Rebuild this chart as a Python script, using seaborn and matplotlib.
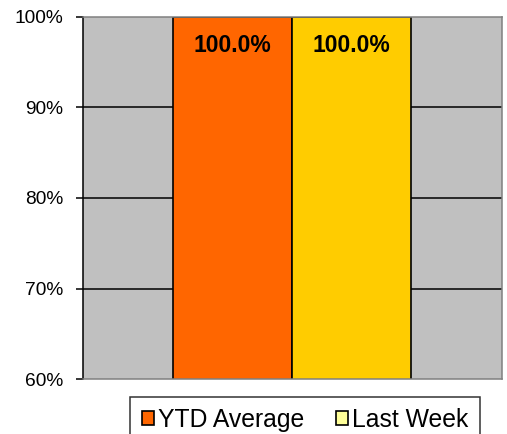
import matplotlib
matplotlib.use("Agg")
import matplotlib.pyplot as plt
from matplotlib.patches import Patch
import seaborn as sns
import pandas as pd

categories = ["YTD Average", "Last Week"]
values = [100.0, 100.0]
bar_colors = ["#FF6600", "#FFCC00"]
legend_colors = ["#FF6600", "#FFFF99"]
yticks = [60, 70, 80, 90, 100]

sns.set_style("white")
plt.rcParams["font.family"] = ["Liberation Sans", "DejaVu Sans"]
plt.rcParams["text.color"] = "black"
plt.rcParams["ytick.color"] = "black"

df = pd.DataFrame({"cat": categories, "val": values})

fig = plt.figure(figsize=(5.07, 4.34), dpi=100)
ax = fig.add_axes([83 / 507, 1 - 379 / 434, 419 / 507, 362 / 434])
ax.set_facecolor("#C0C0C0")

for y in yticks[1:-1]:
    ax.axhline(y, color="black", lw=1.1, zorder=1)

sns.barplot(data=df, x="cat", y="val", hue="cat", palette=bar_colors,
            saturation=1, width=1.0, edgecolor="black", linewidth=1.2,
            legend=False, ax=ax, zorder=2)

for i, v in enumerate(values):
    ax.text(i, 96.9, f"{v:.1f}%", ha="center", va="center", color="black",
            fontsize=16.5, fontweight="bold", zorder=3)

ax.set_ylim(60, 100)
ax.set_xlim(-1.256, 2.265)
ax.set_yticks(yticks)
ax.set_yticklabels([f"{t}%" for t in yticks], fontsize=13.8, color="black")
ax.set_xticks([])
ax.set_xlabel("")
ax.set_ylabel("")
ax.tick_params(axis="y", left=True, length=5, width=1.1, color="black", pad=9)

ax.spines["left"].set_color("black")
ax.spines["left"].set_linewidth(1.1)
for s in ["top", "right", "bottom"]:
    ax.spines[s].set_color("#808080")
    ax.spines[s].set_linewidth(1.1)

handles = [Patch(facecolor=c, edgecolor="black", linewidth=1.2) for c in legend_colors]
leg = fig.legend(handles, categories, loc="upper center",
                 bbox_to_anchor=(305 / 507, 1 - 397 / 434), ncol=2,
                 fontsize=17.8, frameon=True, fancybox=False,
                 handlelength=0.5, handleheight=0.5, handletextpad=0.15,
                 columnspacing=1.3, borderpad=0.45, borderaxespad=0)
leg.get_frame().set_edgecolor("black")
leg.get_frame().set_linewidth(1.1)
for t in leg.get_texts():
    t.set_color("black")

fig.savefig("out.png", dpi=100)
